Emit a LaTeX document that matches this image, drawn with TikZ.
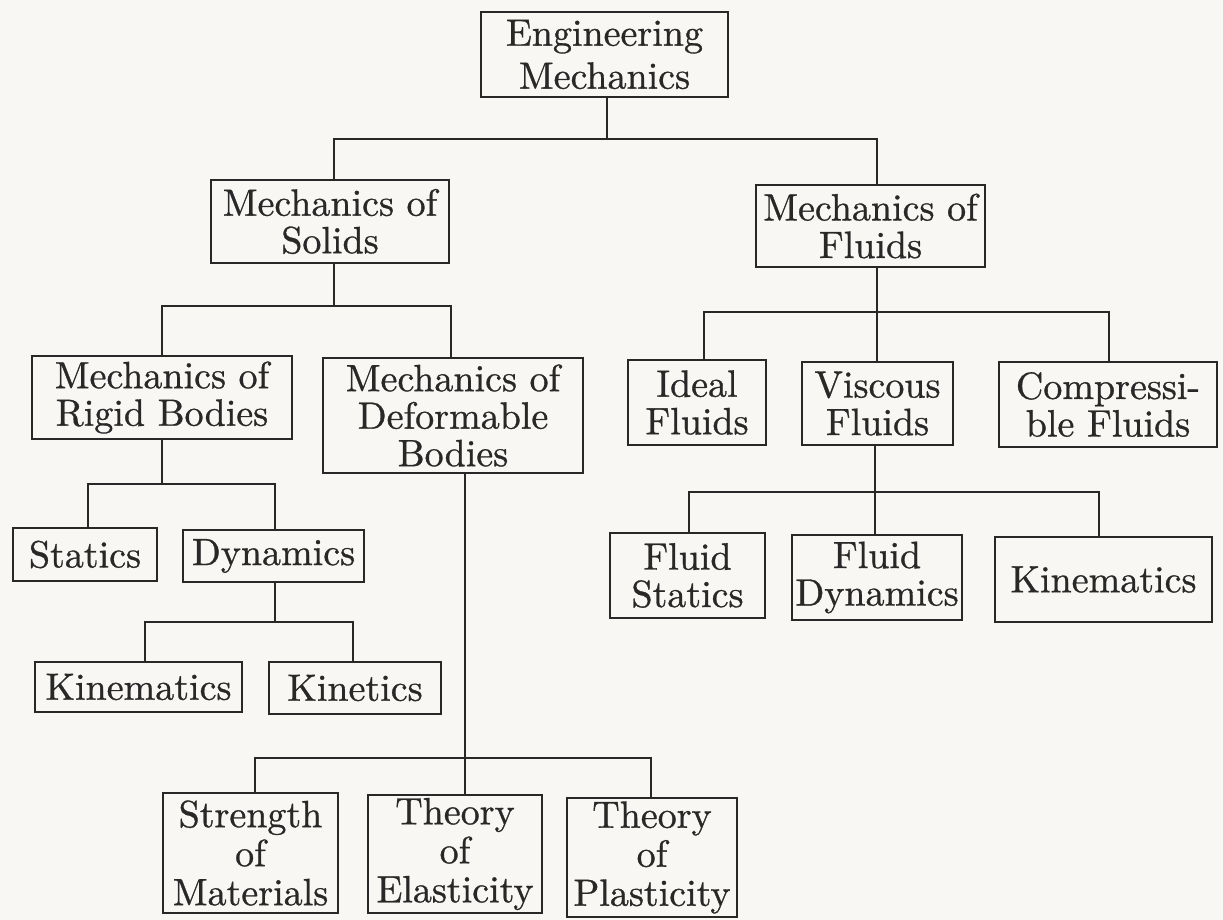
\documentclass[tikz,border=0pt]{standalone}
\usepackage{fontspec}
\setmainfont{lmroman10-regular}[Extension=.otf, RawFeature={embolden=0.8}]
\definecolor{bg}{RGB}{248,247,244}
\definecolor{ink}{RGB}{40,40,40}
\begin{document}
\begin{tikzpicture}[x=1pt,y=-1pt,
  box/.style={draw=ink, line width=2.2pt, inner sep=0pt, align=center, text=ink,
    font=\fontsize{38}{37.5}\selectfont},
  sz/.style n args={2}{minimum width=#1pt, minimum height=#2pt},
  conn/.style={draw=ink, line width=2.2pt}]
\fill[bg] (0,0) rectangle (1223,920);
\useasboundingbox (0,0) rectangle (1223,920);

% level 0
\node[box, sz={247}{85}, font=\fontsize{38}{43}\selectfont] (em) at (604.5,54.5) {Engineering\\Mechanics};
% level 1
\node[box, sz={238}{83}] (sol) at (330,221.5) {Mechanics of\\Solids};
\node[box, sz={229}{82}] (flu) at (870.5,226) {Mechanics of\\Fluids};
% level 2
\node[box, sz={260}{83}] (rig) at (162,397.5) {Mechanics of\\Rigid Bodies};
\node[box, sz={260}{115}] (def) at (453,415.5) {Mechanics of\\Deformable\\Bodies};
\node[box, sz={138}{85}] (ide) at (697,402.5) {Ideal\\Fluids};
\node[box, sz={151}{83}] (vis) at (877.5,403.5) {Viscous\\Fluids};
\node[box, sz={218}{85}] (com) at (1108,404.5) {Compressi-\\ble Fluids};
% level 3
\node[box, sz={144}{53}] (sta) at (85,554.5) {Statics};
\node[box, sz={181}{52}] (dyn) at (273.5,556) {Dynamics};
\node[box, sz={155}{85}] (fst) at (687.5,575.5) {Fluid\\Statics};
\node[box, sz={170}{85}] (fdy) at (877,577.5) {Fluid\\Dynamics};
\node[box, sz={217}{85}] (kin2) at (1103.5,579.5) {Kinematics};
% level 4
\node[box, sz={207}{50}] (kin1) at (138.5,687) {Kinematics};
\node[box, sz={172}{52}] (kit) at (355,688) {Kinetics};
% level 5
\node[box, sz={175}{120}, font=\fontsize{38}{39}\selectfont] (str) at (250.5,853) {Strength\\of\\Materials};
\node[box, sz={174}{118}, font=\fontsize{38}{39}\selectfont] (ela) at (455,854) {Theory\\of\\Elasticity};
\node[box, sz={170}{119}, font=\fontsize{38}{39}\selectfont] (pla) at (652,857.5) {Theory\\of\\Plasticity};

% trunks
\coordinate (tE) at (607,139);
\coordinate (tS) at (334,306);
\coordinate (tR) at (162,484);
\coordinate (tD) at (275,622);
\coordinate (tB) at (465,758);
\coordinate (tF) at (877,312);
\coordinate (tV) at (875,492);

% Engineering Mechanics -> Solids, Fluids
\draw[conn] (em.south -| tE) -- (tE);
\draw[conn] ([xshift=4pt]sol.north) -- ([xshift=4pt]sol.north |- tE) -- ([xshift=6.5pt]flu.north |- tE) -- ([xshift=6.5pt]flu.north);
% Solids -> Rigid, Deformable
\draw[conn] (sol.south -| tS) -- (tS);
\draw[conn] (rig.north) -- (rig.north |- tS) -- ([xshift=-2pt]def.north |- tS) -- ([xshift=-2pt]def.north);
% Rigid -> Statics, Dynamics
\draw[conn] (rig.south -| tR) -- (tR);
\draw[conn] ([xshift=3pt]sta.north) -- ([xshift=3pt]sta.north |- tR) -- ([xshift=1.5pt]dyn.north |- tR) -- ([xshift=1.5pt]dyn.north);
% Dynamics -> Kinematics, Kinetics
\draw[conn] (dyn.south -| tD) -- (tD);
\draw[conn] ([xshift=6.5pt]kin1.north) -- ([xshift=6.5pt]kin1.north |- tD) -- ([xshift=-2pt]kit.north |- tD) -- ([xshift=-2pt]kit.north);
% Deformable -> Strength, Elasticity, Plasticity
\draw[conn] (def.south -| tB) -- (tB) -- (ela.north -| tB);
\draw[conn] ([xshift=4.5pt]str.north) -- ([xshift=4.5pt]str.north |- tB) -- ([xshift=-1pt]pla.north |- tB) -- ([xshift=-1pt]pla.north);
% Fluids -> Ideal, Viscous, Compressible
\draw[conn] (flu.south -| tF) -- (tF) -- (vis.north -| tF);
\draw[conn] ([xshift=7pt]ide.north) -- ([xshift=7pt]ide.north |- tF) -- ([xshift=1pt]com.north |- tF) -- ([xshift=1pt]com.north);
% Viscous -> Fluid Statics, Fluid Dynamics, Kinematics
\draw[conn] (vis.south -| tV) -- (tV) -- (fdy.north -| tV);
\draw[conn] ([xshift=1.5pt]fst.north) -- ([xshift=1.5pt]fst.north |- tV) -- ([xshift=-4.5pt]kin2.north |- tV) -- ([xshift=-4.5pt]kin2.north);
\end{tikzpicture}
\end{document}
